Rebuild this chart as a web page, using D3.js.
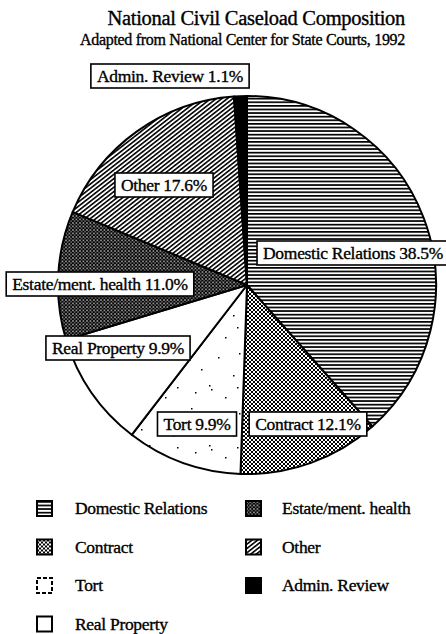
<!DOCTYPE html>
<html>
<head>
<meta charset="utf-8">
<script src="https://cdn.jsdelivr.net/npm/d3@7"></script>
<style>
  body { margin: 0; background: #fff; }
  text { font-family: "Liberation Serif", "DejaVu Serif", serif; fill: #000; stroke: #000; stroke-width: 0.35px; }
</style>
</head>
<body>
<div id="chart"></div>
<script>
// Data (clockwise from 12 o'clock)
const categories = ["Domestic Relations", "Contract", "Tort", "Real Property", "Estate/ment. health", "Other", "Admin. Review"];
const shares = [38.5, 12.1, 9.9, 9.9, 11.0, 17.6, 1.1];
const legendOrder = ["Domestic Relations", "Estate/ment. health", "Contract", "Other", "Tort", "Admin. Review", "Real Property"];

const width = 446;
const height = 634;
const cx = 247, cy = 285, radius = 189;

// where each label box sits (box centre)
const labelPos = {
  "Domestic Relations": [353, 253],
  "Contract": [308, 424],
  "Tort": [197, 424],
  "Real Property": [118, 348],
  "Estate/ment. health": [100, 284],
  "Other": [164, 185],
  "Admin. Review": [170, 76]
};

const svg = d3.select("#chart")
  .append("svg")
  .attr("width", width)
  .attr("height", height);

// Patterns
const defs = svg.append("defs");

function pat(id, w, h) {
  return defs.append("pattern")
    .attr("id", id)
    .attr("patternUnits", "userSpaceOnUse")
    .attr("width", w)
    .attr("height", h);
}

// horizontal lines
let p = pat("p-dom", 4, 3.6);
p.append("rect").attr("width", 4).attr("height", 3.6).attr("fill", "#fff");
p.append("rect").attr("y", 0).attr("width", 4).attr("height", 1.7).attr("fill", "#000");

// checker (contract)
p = pat("p-con", 4, 4);
p.append("rect").attr("width", 4).attr("height", 4).attr("fill", "#000");
p.append("rect").attr("x", 0).attr("y", 0).attr("width", 2).attr("height", 2).attr("fill", "#fff");
p.append("rect").attr("x", 2).attr("y", 2).attr("width", 2).attr("height", 2).attr("fill", "#fff");

// darker checker (estate)
p = pat("p-est", 3.5, 3.5);
p.append("rect").attr("width", 3.5).attr("height", 3.5).attr("fill", "#000");
p.append("rect").attr("x", 0.3).attr("y", 0.3).attr("width", 1.3).attr("height", 1.3).attr("fill", "#fff");
p.append("rect").attr("x", 2.05).attr("y", 2.05).attr("width", 1.1).attr("height", 1.1).attr("fill", "#ddd");

// diagonal lines (other)
p = pat("p-oth", 4, 3.4).attr("patternTransform", "rotate(-38)");
p.append("rect").attr("width", 4).attr("height", 3.4).attr("fill", "#fff");
p.append("rect").attr("width", 4).attr("height", 1.6).attr("fill", "#000");

// sparse dots (tort)
p = pat("p-tor", 60, 60);
p.append("rect").attr("width", 60).attr("height", 60).attr("fill", "#fff");
[[4, 3], [31, 12], [14, 24], [46, 30], [8, 47], [38, 52], [52, 8], [22, 40], [24, 44], [50, 42]].forEach(d => {
  p.append("rect").attr("x", d[0]).attr("y", d[1]).attr("width", 1.5).attr("height", 1.5).attr("fill", "#000");
});

const fills = {
  "Domestic Relations": "url(#p-dom)",
  "Contract": "url(#p-con)",
  "Tort": "url(#p-tor)",
  "Real Property": "#fff",
  "Estate/ment. health": "url(#p-est)",
  "Other": "url(#p-oth)",
  "Admin. Review": "#000"
};

const data = categories.map((c, i) => ({ name: c, value: shares[i] }));

const pie = d3.pie()
  .sort(null)
  .value(d => d.value)
  .startAngle(0)
  .endAngle(2 * Math.PI);

const arc = d3.arc().innerRadius(0).outerRadius(radius);

const g = svg.append("g").attr("transform", `translate(${cx},${cy})`);

g.selectAll("path.slice")
  .data(pie(data))
  .join("path")
  .attr("class", "slice")
  .attr("d", arc)
  .attr("fill", d => fills[d.data.name])
  .attr("stroke", "#000")
  .attr("stroke-width", 2)
  .attr("stroke-linejoin", "round");

// Title
svg.append("text")
  .text("National Civil Caseload Composition")
  .attr("x", 405)
  .attr("y", 25)
  .attr("text-anchor", "end")
  .style("font-size", "20.5px")
  .style("letter-spacing", "-0.3px");

svg.append("text")
  .text("Adapted from National Center for State Courts, 1992")
  .attr("x", 405)
  .attr("y", 45)
  .attr("text-anchor", "end")
  .style("font-size", "16px")
  .style("letter-spacing", "-0.3px");

// Labels in boxes
const labels = svg.append("g");
data.forEach(d => {
  const pos = labelPos[d.name];
  const lg = labels.append("g").attr("transform", `translate(${pos[0]},${pos[1]})`);
  const box = lg.append("rect");
  const t = lg.append("text")
    .text(`${d.name} ${d.value.toFixed(1)}%`)
    .attr("text-anchor", "middle")
    .attr("y", 6)
    .style("font-size", "17.5px")
    .style("letter-spacing", "-0.3px");
  const w = t.node().getComputedTextLength() + 12;
  box.attr("x", -w / 2).attr("y", -12)
    .attr("width", w).attr("height", 24)
    .attr("fill", "#fff")
    .attr("stroke", "#000")
    .attr("stroke-width", 1.6);
});

// Legend
const legend = svg.append("g");
legendOrder.forEach((name, i) => {
  const col = i % 2, row = Math.floor(i / 2);
  const x = col === 0 ? 37 : 246;
  const y = 501 + row * 38.5;
  const item = legend.append("g").attr("transform", `translate(${x},${y})`);
  const s = 15;
  if (name === "Tort") {
    item.append("rect").attr("width", s).attr("height", s)
      .attr("fill", "#fff").attr("stroke", "#000").attr("stroke-width", 2)
      .attr("stroke-dasharray", "4,2");
  } else {
    item.append("rect").attr("width", s).attr("height", s)
      .attr("fill", fills[name]).attr("stroke", "#000").attr("stroke-width", 2);
  }
  item.append("text")
    .text(name)
    .attr("x", col === 0 ? 38 : 36)
    .attr("y", 13)
    .style("font-size", "17.5px")
    .style("letter-spacing", "-0.3px");
});
</script>
</body>
</html>
